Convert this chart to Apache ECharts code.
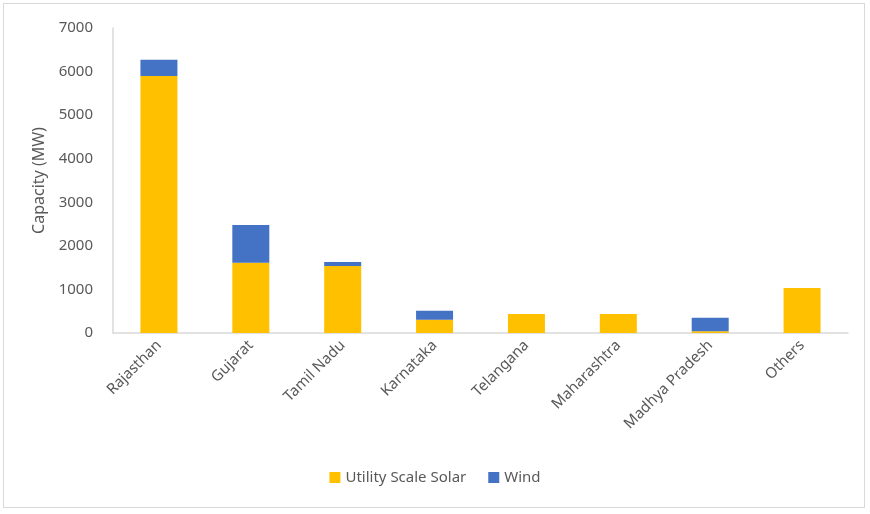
<!DOCTYPE html>
<html><head><meta charset="utf-8">
<script src="https://cdn.jsdelivr.net/npm/echarts@6/dist/echarts.min.js"></script>
<style>
html,body{margin:0;padding:0;background:#fff;}
#frame{position:absolute;left:3px;top:3px;width:862px;height:505px;border:1px solid #d9d9d9;box-sizing:border-box;}
#c{position:absolute;left:0;top:0;width:870px;height:514px;}
</style></head>
<body><div id="frame"></div><div id="c"></div>
<script>
var categories = ['Rajasthan','Gujarat','Tamil Nadu','Karnataka','Telangana','Maharashtra','Madhya Pradesh','Others'];
var solar = [5900, 1610, 1540, 305, 435, 435, 40, 1030];
var wind = [370, 870, 90, 205, 0, 0, 310, 0];
var yTicks = [0, 1000, 2000, 3000, 4000, 5000, 6000, 7000];

var chart = echarts.init(document.getElementById('c'));
var font = 'Noto Sans';
chart.setOption({
  animation: false,
  grid: {left: 113, right: 22, top: 28, bottom: 181},
  legend: {
    bottom: 24, left: 'center', itemWidth: 11, itemHeight: 11, itemGap: 22,
    icon: 'rect',
    textStyle: {color: '#595959', fontSize: 15, fontFamily: font},
    data: ['Utility Scale Solar', 'Wind']
  },
  xAxis: {
    type: 'category', data: categories,
    axisLine: {lineStyle: {color: '#d9d9d9', width: 1.5}},
    axisTick: {show: false},
    axisLabel: {rotate: 45, color: '#595959', fontSize: 15, fontFamily: font, margin: 10, interval: 0}
  },
  yAxis: {
    type: 'value', min: yTicks[0], max: yTicks[yTicks.length-1], interval: 1000,
    name: 'Capacity (MW)', nameLocation: 'middle', nameGap: 64,
    nameTextStyle: {color: '#595959', fontSize: 16, fontFamily: font},
    axisLine: {show: true, lineStyle: {color: '#d9d9d9', width: 1.5}},
    axisTick: {show: false},
    splitLine: {show: false},
    axisLabel: {color: '#595959', fontSize: 15, fontFamily: font, margin: 20, formatter: function (v) { return String(v); }}
  },
  series: [
    {name: 'Utility Scale Solar', type: 'bar', stack: 'a', data: solar, barWidth: 37, itemStyle: {color: '#ffc000'}},
    {name: 'Wind', type: 'bar', stack: 'a', data: wind, barWidth: 37, itemStyle: {color: '#4472c4'}}
  ]
});
</script></body></html>
